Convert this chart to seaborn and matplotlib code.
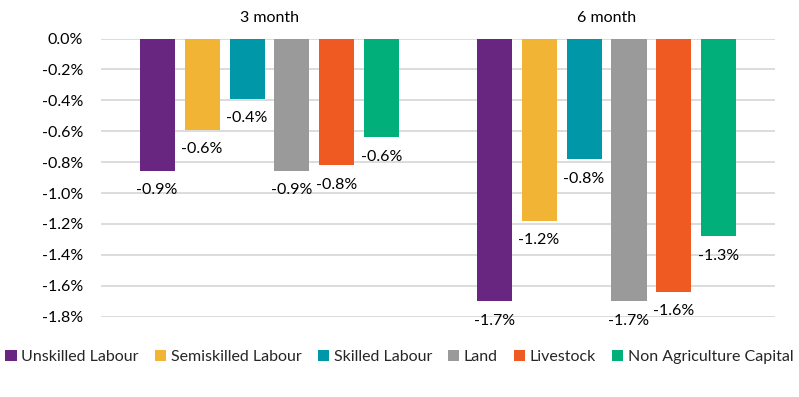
import matplotlib
matplotlib.use("Agg")
import matplotlib.pyplot as plt
import matplotlib.ticker as mtick
import pandas as pd
import seaborn as sns

# ─── Data ───────────────────────────────────────────────────────────────────
periods = ["3 month", "6 month"]
factors = ["Unskilled Labour", "Semiskilled Labour", "Skilled Labour",
           "Land", "Livestock", "Non Agriculture Capital"]
change_3m = [-0.855, -0.59, -0.39, -0.855, -0.82, -0.64]
change_6m = [-1.70, -1.18, -0.78, -1.70, -1.64, -1.28]
yticks = [0.0, -0.2, -0.4, -0.6, -0.8, -1.0, -1.2, -1.4, -1.6, -1.8]

COLORS = ["#682680", "#F1B434", "#0098A9", "#9A9A9B", "#EF5922", "#00AF7A"]

df = pd.DataFrame({
    "period": [periods[0]] * len(factors) + [periods[1]] * len(factors),
    "factor": factors * 2,
    "value": change_3m + change_6m,
})

# ─── Style ──────────────────────────────────────────────────────────────────
sns.set_theme(style="white")
plt.rcParams["font.family"] = ["Lato", "DejaVu Sans"]
FS = 11.5

fig = plt.figure(figsize=(7.99, 3.97), dpi=100)
ax = fig.add_axes([0.1264, 0.2023, 0.8436, 0.7007])

sns.barplot(data=df, x="period", y="value", hue="factor", palette=COLORS,
            width=0.8, gap=0.22, ax=ax, saturation=1, linewidth=0)

handles, labels = ax.get_legend_handles_labels()
ax.get_legend().remove()

# value labels below each bar
for cont in ax.containers:
    ax.bar_label(cont, labels=[f"{v:.1f}%" for v in cont.datavalues],
                 padding=9, fontsize=FS, color="black")

ax.set_ylim(-1.8, 0)
ax.set_xlim(-0.5, 1.5)
ax.set_yticks(yticks)
ax.yaxis.set_major_formatter(mtick.FuncFormatter(lambda v, _: f"{v:.1f}%"))
ax.yaxis.grid(True, color="#D9D9D9", linewidth=1.3)
ax.set_axisbelow(True)
for s in ax.spines.values():
    s.set_visible(False)
ax.xaxis.tick_top()
ax.tick_params(axis="x", length=0, pad=10, labelsize=FS, colors="black")
ax.tick_params(axis="y", length=0, pad=13, labelsize=FS, colors="black")
ax.set_xlabel("")
ax.set_ylabel("")

fig.legend(handles, labels, loc="center", bbox_to_anchor=(0.5, 0.10),
           ncol=6, frameon=False, fontsize=FS, handlelength=0.7,
           handleheight=0.7, handletextpad=0.3, columnspacing=1.0)

fig.savefig("out.png", dpi=100)
